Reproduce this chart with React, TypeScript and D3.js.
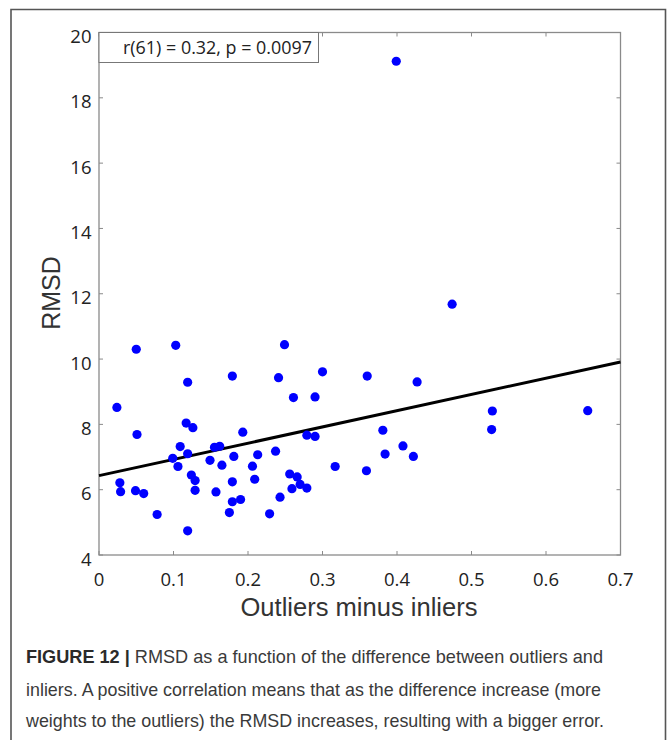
import React from "react";
import * as d3 from "d3";

// ---- data ----
const outliersMinusInliers: number[] = [
  0.024, 0.05, 0.051, 0.028, 0.029, 0.049, 0.06, 0.078, 0.103, 0.099,
  0.106, 0.109, 0.119, 0.117, 0.126, 0.119, 0.124, 0.129, 0.129, 0.119,
  0.149, 0.155, 0.162, 0.165, 0.157, 0.179, 0.181, 0.179, 0.179, 0.175,
  0.19, 0.193, 0.206, 0.213, 0.209, 0.229, 0.237, 0.241, 0.249, 0.261,
  0.243, 0.256, 0.259, 0.266, 0.27, 0.279, 0.279, 0.474, 0.3, 0.36,
  0.427, 0.29, 0.29, 0.381, 0.408, 0.384, 0.422, 0.317, 0.359, 0.399,
  0.528, 0.527, 0.656,
];
const rmsd: number[] = [
  8.52, 10.3, 7.69, 6.21, 5.94, 5.97, 5.88, 5.24, 10.42, 6.96,
  6.71, 7.32, 9.29, 8.04, 7.9, 7.1, 6.45, 6.28, 5.98, 4.74,
  6.9, 7.3, 7.33, 6.75, 5.93, 9.48, 7.02, 6.24, 5.63, 5.3,
  5.7, 7.76, 6.72, 7.07, 6.32, 5.26, 7.18, 9.43, 10.44, 8.82,
  5.77, 6.48, 6.03, 6.39, 6.16, 6.05, 7.67, 11.68, 9.61, 9.48,
  9.3, 8.84, 7.63, 7.82, 7.34, 7.09, 7.02, 6.71, 6.58, 19.12,
  8.41, 7.84, 8.42,
];
const fitX: number[] = [0, 0.7];
const fitY: number[] = [6.43, 9.91];
const xTicks: number[] = [0, 0.1, 0.2, 0.3, 0.4, 0.5, 0.6, 0.7];
const yTicks: number[] = [4, 6, 8, 10, 12, 14, 16, 18, 20];
const statText = "r(61) = 0.32, p = 0.0097";
const xLabel = "Outliers minus inliers";
const yLabel = "RMSD";
const captionBold = "FIGURE 12 |";
const captionLines: string[] = [
  " RMSD as a function of the difference between outliers and",
  "inliers. A positive correlation means that as the difference increase (more",
  "weights to the outliers) the RMSD increases, resulting with a bigger error.",
];

export default function App() {
  const W = 667, H = 740;
  const L = 99, R = 620.5, T = 32.5, B = 555;
  const x = d3.scaleLinear().domain([0, 0.7]).range([L, R]);
  const y = d3.scaleLinear().domain([4, 20]).range([B, T]);
  const axisColor = "#8a8a8a";
  const tickFont = "'Open Sans', 'DejaVu Sans', sans-serif";
  const labelFont = "'Liberation Sans', Arial, sans-serif";
  const line = d3
    .line<number>()
    .x((_, i) => x(fitX[i]))
    .y((_, i) => y(fitY[i]));
  const tl = 4;

  return (
    <svg
      width={W}
      height={H}
      style={{ position: "absolute", left: 0, top: 0, display: "block", background: "#fff" }}
    >
      <rect x={0} y={0} width={W} height={H} fill="#fff" />
      {/* outer frame */}
      <path d={`M11,${H + 5} V9.5 H665.5 V${H + 5}`} fill="none" stroke="#555" strokeWidth={1.6} />

      {/* ticks */}
      {xTicks.map((t) => (
        <g key={"xt" + t}>
          <line x1={x(t)} x2={x(t)} y1={B} y2={B - tl} stroke={axisColor} strokeWidth={1} />
          <line x1={x(t)} x2={x(t)} y1={T} y2={T + tl} stroke={axisColor} strokeWidth={1} />
          <text
            x={x(t)}
            y={586}
            textAnchor="middle"
            fontFamily={tickFont}
            fontSize={18.5}
            fill="#222"
          >
            {t === 0 ? "0" : d3.format(".1f")(t)}
          </text>
        </g>
      ))}
      {yTicks.map((t) => (
        <g key={"yt" + t}>
          <line x1={L} x2={L + tl} y1={y(t)} y2={y(t)} stroke={axisColor} strokeWidth={1} />
          <line x1={R} x2={R - tl} y1={y(t)} y2={y(t)} stroke={axisColor} strokeWidth={1} />
          <text
            x={91.5}
            y={y(t) + 10.5}
            textAnchor="end"
            fontFamily={tickFont}
            fontSize={18.5}
            fill="#222"
          >
            {t}
          </text>
        </g>
      ))}

      {/* axes box */}
      <rect x={L} y={T} width={R - L} height={B - T} fill="none" stroke={axisColor} strokeWidth={1.3} />

      {/* fit line */}
      <path d={line(fitX) || ""} fill="none" stroke="#000" strokeWidth={3} />

      {/* points */}
      {outliersMinusInliers.map((v, i) => (
        <circle key={"p" + i} cx={x(v)} cy={y(rmsd[i])} r={4.6} fill="#0000ff" />
      ))}

      {/* stat box */}
      <rect x={L} y={T} width={318.5 - L} height={62.5 - T} fill="#fff" stroke="#777" strokeWidth={1} />
      <text x={123} y={54} fontFamily={tickFont} fontSize={18.5} fill="#222" textLength={189} lengthAdjust="spacingAndGlyphs">
        {statText}
      </text>

      {/* axis labels */}
      <text
        x={359}
        y={616}
        textAnchor="middle"
        fontFamily={labelFont}
        fontSize={25}
        fill="#333"
        textLength={237}
        lengthAdjust="spacingAndGlyphs"
      >
        {xLabel}
      </text>
      <text
        transform={`translate(60,293) rotate(-90)`}
        textAnchor="middle"
        fontFamily={labelFont}
        fontSize={25}
        fill="#333"
      >
        {yLabel}
      </text>

      {/* caption */}
      <text x={26} y={663} fontFamily={labelFont} fontSize={19} fill="#3a3a3a" textLength={577} lengthAdjust="spacingAndGlyphs">
        <tspan fontWeight="bold" fill="#2a2a2a">{captionBold}</tspan>
        <tspan>{captionLines[0]}</tspan>
      </text>
      <text x={26} y={696} fontFamily={labelFont} fontSize={19} fill="#3a3a3a" textLength={575} lengthAdjust="spacingAndGlyphs">
        {captionLines[1]}
      </text>
      <text x={26} y={727} fontFamily={labelFont} fontSize={19} fill="#3a3a3a" textLength={578} lengthAdjust="spacingAndGlyphs">
        {captionLines[2]}
      </text>
    </svg>
  );
}
